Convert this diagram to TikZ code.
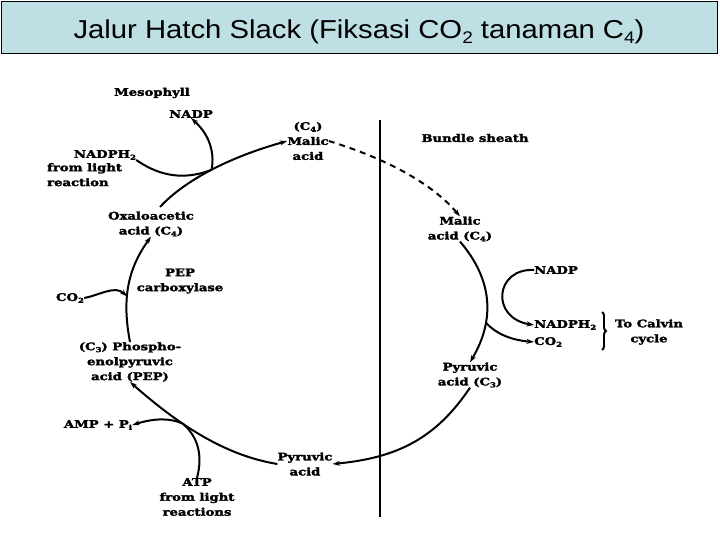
\documentclass[tikz,border=0pt]{standalone}
\usepackage{fontspec}
\newfontfamily\titlefont[FakeStretch=1.13]{Liberation Sans}
\newfontfamily\scanfont[FakeStretch=1.26, FakeBold=2.5]{DejaVu Serif}
\usetikzlibrary{arrows.meta,decorations.pathreplacing}
\definecolor{titlebg}{RGB}{190,224,228}
\newcommand\lsub[1]{\raisebox{-0.35ex}{\scalebox{0.65}{#1}}}
\tikzset{
	lbl/.style={font=\scanfont\bfseries\fontsize{10.5}{15}\selectfont, align=center, inner sep=0pt},
	flow/.style={line width=2pt, -{Stealth[length=7.5pt,width=5pt]}},
	plain/.style={line width=2pt},
}
\begin{document}
\begin{tikzpicture}[x=1bp, y=-1bp]
		\useasboundingbox (0,0) rectangle (720,540);
		% title bar
		\node (titlebar) [draw=black, fill=titlebg, line width=0.8pt, minimum width=716bp, minimum height=52bp, anchor=north west] at (1,1) {};
		\node (title) [font=\titlefont\fontsize{26}{30}\selectfont] at (359,32) {Jalur Hatch Slack (Fiksasi CO\lsub{2} tanaman C\lsub{4})};
		
		% labels
		\node (meso) [lbl] at (152,93) {Mesophyll};
		\node (nadptop) [lbl] at (191,114) {NADP};
		\node (malictop) [lbl] at (308,141) {(C\lsub{4})\\Malic\\acid};
		\node (bundle) [lbl] at (475,138) {Bundle sheath};
		\node (nadph) [lbl] at (105,155) {NADPH\lsub{2}};
		\node (fromlight) [lbl, align=left, anchor=north west] at (47,163) {from light\\reaction};
		\node (oxalo) [lbl] at (151,224) {Oxaloacetic\\acid (C\lsub{4})};
		\node (malicbs) [lbl] at (460,229) {Malic\\acid (C\lsub{4})};
		\node (pepcarb) [lbl] at (180,281) {PEP\\carboxylase};
		\node (co2left) [lbl] at (70,298) {CO\lsub{2}};
		\node (nadpright) [lbl, anchor=west] at (534,270) {NADP};
		\node (nadph2right) [lbl, anchor=west] at (534,325) {NADPH\lsub{2}};
		\node (co2right) [lbl, anchor=west] at (534,342) {CO\lsub{2}};
		\node (calvin) [lbl] at (649,332) {To Calvin\\cycle};
		\node (pep) [lbl] at (130,362) {(C\lsub{3}) Phospho-\\enolpyruvic\\acid (PEP)};
		\node (pyrbs) [lbl] at (470,375) {Pyruvic\\acid (C\lsub{3})};
		\node (amp) [lbl] at (98,425) {AMP + P\lsub{i}};
		\node (pyrmeso) [lbl] at (305,464) {Pyruvic\\acid};
		\node (atp) [lbl] at (197,497) {ATP\\from light\\reactions};
		
		% cell wall
		\coordinate (walltop) at (380,120);
		\coordinate (wallbottom) at (380,517);
		\draw[line width=2.6pt] (walltop) -- (wallbottom);
		
		% cycle
		\draw[flow] (160,207) .. controls (185,180) and (230,157) .. (malictop.west) coordinate[pos=0.5] (jnadp);
		\draw[plain] (nadph.south east) .. controls (165,180) and (190,178) .. (jnadp);
		\draw[flow] (jnadp) .. controls (214,158) and (213,138) .. (nadptop.south);
		\draw[flow, dashed, dash pattern=on 6pt off 5pt] (malictop.east) .. controls (365,152) and (425,175) .. (malicbs.north);
		\draw[flow] (malicbs.south) .. controls (493,280) and (495,320) .. (pyrbs.north) coordinate[pos=0.68] (jco2);
		\draw[flow] (nadpright.west) .. controls (495,268) and (490,318) .. (nadph2right.west);
		\draw[flow] (jco2) .. controls (495,333) and (510,340) .. (co2right.west);
		\draw[decorate, decoration={brace, amplitude=4pt}, line width=2pt] (602,312) -- (602,350);
		\draw[flow] (pyrbs.south) .. controls (435,440) and (395,458) .. (pyrmeso.east);
		\draw[flow] (pyrmeso.west) .. controls (228,456) and (182,428) .. (pep.south) coordinate[pos=0.65] (jamp);
		\draw[flow] (jamp) .. controls (170,418) and (155,418) .. (amp.east);
		\draw[plain] (atp.north) .. controls (203,455) and (198,437) .. (jamp);
		\draw[flow] (pep.north) .. controls (122,300) and (127,270) .. (oxalo.south) coordinate[pos=0.4] (jco2in);
		\draw[flow] (co2left.east) .. controls (100,295) and (115,285) .. (jco2in);
	\end{tikzpicture}
\end{document}
